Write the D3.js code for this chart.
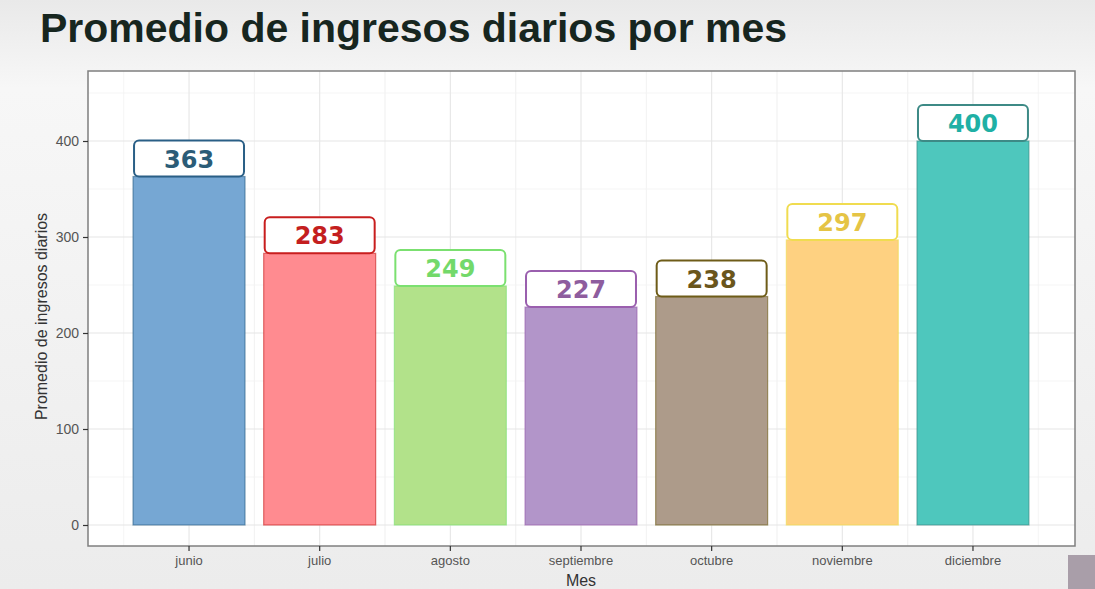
<!DOCTYPE html>
<html>
<head>
<meta charset="utf-8">
<script src="https://cdn.jsdelivr.net/npm/d3@7"></script>
<style>
  body { margin: 0; background: #f2f2f2; }
  svg { display: block; font-family: "Liberation Sans", Arial, sans-serif; }
</style>
</head>
<body>
<div id="chart"></div>
<script>
const months = ['junio', 'julio', 'agosto', 'septiembre', 'octubre', 'noviembre', 'diciembre'];
const income = [363, 283, 249, 227, 238, 297, 400];
const yTicks = [0, 100, 200, 300, 400];
const fills = ['#76a7d3', '#ff8b90', '#b2e28a', '#b295c9', '#ad9b8a', '#fed181', '#4ec7bd'];
const strokes = ['#2a5f86', '#c81e1e', '#7be070', '#9a5fae', '#6e5c18', '#f0dc50', '#3d8a86'];
const textColors = ['#2b5c77', '#c41f1f', '#73d96a', '#8e5d9e', '#6a561c', '#e5c445', '#1fb0a5'];

const width = 1095, height = 589;
const panel = { left: 88, right: 1075, top: 71, bottom: 546 };

const svg = d3.select('#chart').append('svg')
  .attr('width', width).attr('height', height);

const grad = svg.append('defs').append('linearGradient')
  .attr('id', 'bg').attr('x1', 0).attr('y1', 0).attr('x2', 0).attr('y2', 1);
grad.append('stop').attr('offset', '0%').attr('stop-color', '#e9e9e9');
grad.append('stop').attr('offset', '15%').attr('stop-color', '#f7f7f7');
grad.append('stop').attr('offset', '100%').attr('stop-color', '#ececec');
svg.append('rect').attr('width', width).attr('height', height).attr('fill', 'url(#bg)');

const x = d3.scaleBand()
  .domain(months)
  .range([123.7, 1038.3])
  .paddingInner(0.143)
  .paddingOuter(0.0715);

const y = d3.scaleLinear()
  .domain([0, 400])
  .range([525, 141]);

// panel
svg.append('rect')
  .attr('x', panel.left).attr('y', panel.top)
  .attr('width', panel.right - panel.left).attr('height', panel.bottom - panel.top)
  .attr('fill', '#ffffff');

// grid
const grid = svg.append('g');
d3.range(50, 500, 100).forEach(v => {
  grid.append('line')
    .attr('x1', panel.left).attr('x2', panel.right)
    .attr('y1', y(v)).attr('y2', y(v))
    .attr('stroke', '#f2f2f2').attr('stroke-width', 0.8);
});
const step = x.step();
months.forEach(m => {
  const cx = x(m) + x.bandwidth() / 2;
  [cx - step / 2, cx + step / 2].forEach(px => {
    grid.append('line')
      .attr('x1', px).attr('x2', px)
      .attr('y1', panel.top).attr('y2', panel.bottom)
      .attr('stroke', '#f2f2f2').attr('stroke-width', 0.8);
  });
});
yTicks.forEach(v => {
  grid.append('line')
    .attr('x1', panel.left).attr('x2', panel.right)
    .attr('y1', y(v)).attr('y2', y(v))
    .attr('stroke', '#e6e6e6').attr('stroke-width', 1.1);
});
months.forEach(m => {
  const cx = x(m) + x.bandwidth() / 2;
  grid.append('line')
    .attr('x1', cx).attr('x2', cx)
    .attr('y1', panel.top).attr('y2', panel.bottom)
    .attr('stroke', '#e6e6e6').attr('stroke-width', 1.1);
});

// bars
svg.selectAll('.bar')
  .data(income)
  .enter().append('rect')
  .attr('class', 'bar')
  .attr('x', (d, i) => x(months[i]))
  .attr('width', x.bandwidth())
  .attr('y', d => y(d))
  .attr('height', d => y(0) - y(d))
  .attr('fill', (d, i) => fills[i])
  .attr('stroke', (d, i) => strokes[i])
  .attr('stroke-opacity', 0.6)
  .attr('stroke-width', 1.2);

// value labels
const labelH = 36;
const labels = svg.selectAll('.lab')
  .data(income)
  .enter().append('g')
  .attr('class', 'lab')
  .attr('transform', (d, i) => 'translate(' + (x(months[i]) + x.bandwidth() / 2) + ',' + y(d) + ')');
labels.append('rect')
  .attr('x', -x.bandwidth() / 2 + 1).attr('y', -labelH)
  .attr('width', x.bandwidth() - 2).attr('height', labelH)
  .attr('rx', 5)
  .attr('fill', '#ffffff')
  .attr('stroke', (d, i) => strokes[i])
  .attr('stroke-width', 2);
labels.append('text')
  .attr('y', -labelH / 2 + 9)
  .attr('text-anchor', 'middle')
  .attr('font-family', 'Verdana, "DejaVu Sans", sans-serif')
  .attr('font-size', 24)
  .attr('font-weight', 'bold')
  .attr('fill', (d, i) => textColors[i])
  .text(d => d);

// panel border
svg.append('rect')
  .attr('x', panel.left).attr('y', panel.top)
  .attr('width', panel.right - panel.left).attr('height', panel.bottom - panel.top)
  .attr('fill', 'none').attr('stroke', '#7f7f7f').attr('stroke-width', 1.5);

// axes
const yAxis = svg.append('g')
  .attr('transform', 'translate(' + panel.left + ',0)')
  .call(d3.axisLeft(y).tickValues(yTicks).tickSize(5).tickPadding(4));
yAxis.select('.domain').remove();
yAxis.selectAll('line').attr('stroke', '#333').attr('stroke-width', 1.2);
yAxis.selectAll('text').attr('font-size', 14).attr('fill', '#555')
  .attr('font-family', '"Liberation Sans", Arial, sans-serif');

const xAxis = svg.append('g')
  .attr('transform', 'translate(0,' + panel.bottom + ')')
  .call(d3.axisBottom(x).tickSize(5).tickPadding(5));
xAxis.select('.domain').remove();
xAxis.selectAll('line').attr('stroke', '#333').attr('stroke-width', 1.2);
xAxis.selectAll('text').attr('font-size', 13).attr('fill', '#555')
  .attr('font-family', '"Liberation Sans", Arial, sans-serif');

// axis titles
svg.append('text')
  .attr('transform', 'translate(47,' + ((panel.top + panel.bottom) / 2 + 8) + ') rotate(-90)')
  .attr('text-anchor', 'middle')
  .attr('font-size', 16)
  .attr('fill', '#333')
  .text('Promedio de ingresos diarios');

svg.append('text')
  .attr('x', 581).attr('y', 586)
  .attr('text-anchor', 'middle')
  .attr('font-size', 16)
  .attr('fill', '#333')
  .text('Mes');

// title
svg.append('text')
  .attr('x', 40).attr('y', 42)
  .attr('font-family', '"Liberation Sans Narrow", "Liberation Sans", Arial, sans-serif')
  .attr('font-size', 41)
  .attr('font-weight', 'bold')
  .attr('fill', '#17261f')
  .attr('textLength', 747)
  .attr('lengthAdjust', 'spacingAndGlyphs')
  .text('Promedio de ingresos diarios por mes');

// video overlay corner
svg.append('rect')
  .attr('x', 1068).attr('y', 555).attr('width', 27).attr('height', 34)
  .attr('fill', '#a99ea9');
</script>
</body>
</html>
